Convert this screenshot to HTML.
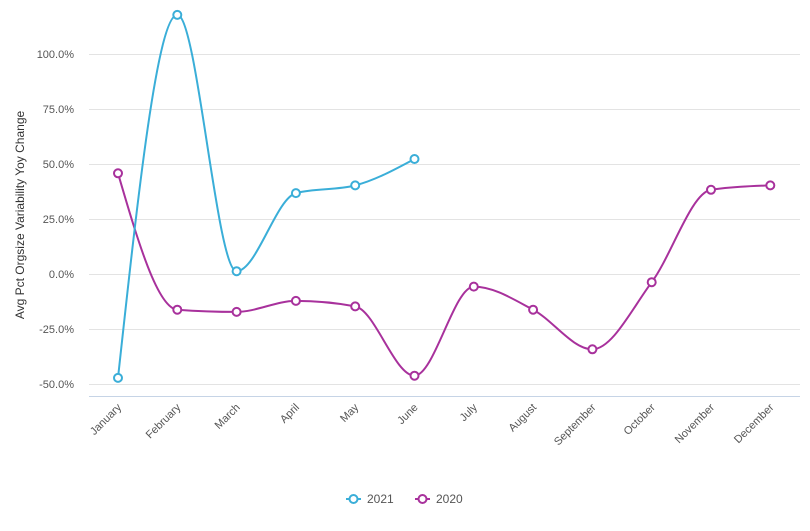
<!DOCTYPE html>
<html><head><meta charset="utf-8"><style>
body{margin:0;background:#fff;width:810px;height:526px;overflow:hidden}
svg text{font-family:"Liberation Sans",sans-serif;fill:#555;font-size:11px}
</style></head><body>
<svg id="s" width="810" height="526" xmlns="http://www.w3.org/2000/svg">
<g stroke="#e3e3e3" stroke-width="1">
<line x1="89" x2="800" y1="54.5" y2="54.5"/><line x1="89" x2="800" y1="109.5" y2="109.5"/>
<line x1="89" x2="800" y1="164.5" y2="164.5"/><line x1="89" x2="800" y1="219.5" y2="219.5"/>
<line x1="89" x2="800" y1="274.5" y2="274.5"/><line x1="89" x2="800" y1="329.5" y2="329.5"/>
<line x1="89" x2="800" y1="384.5" y2="384.5"/>
</g>
<line x1="89" x2="800" y1="396.5" y2="396.5" stroke="#c6d4e6"/>
<g text-anchor="end">
<text x="74" y="58">100.0%</text><text x="74" y="113">75.0%</text><text x="74" y="168">50.0%</text>
<text x="74" y="223">25.0%</text><text x="74" y="278">0.0%</text><text x="74" y="333">-25.0%</text>
<text x="74" y="388">-50.0%</text>
</g>
<text transform="translate(24,215) rotate(-90)" text-anchor="middle" font-size="12" style="font-size:12px;fill:#333">Avg Pct Orgsize Variability Yoy Change</text>
<g id="xl" text-anchor="end"></g>
<g id="series"></g>
<g transform="translate(0,0)">
<line x1="346" x2="361" y1="499" y2="499" stroke="#3aaed8" stroke-width="2"/>
<circle cx="353.5" cy="499" r="4" fill="#fff" stroke="#3aaed8" stroke-width="2"/>
<text x="367" y="503" style="font-size:12px;fill:#555">2021</text>
<line x1="415" x2="430" y1="499" y2="499" stroke="#a8319c" stroke-width="2"/>
<circle cx="422.5" cy="499" r="4" fill="#fff" stroke="#a8319c" stroke-width="2"/>
<text x="436" y="503" style="font-size:12px;fill:#555">2020</text>
</g>
</svg>
<script>
var NS="http://www.w3.org/2000/svg";
var months=["January","February","March","April","May","June","July","August","September","October","November","December"];
function X(i){return 118+i*59.3}
function Y(v){return 274.5-v*2.2}
var xl=document.getElementById("xl");
months.forEach(function(m,i){var t=document.createElementNS(NS,"text");t.setAttribute("transform","translate("+(X(i)+4)+",408) rotate(-45)");t.textContent=m;xl.appendChild(t);});
function mono(p){var n=p.length,d="M"+p[0][0]+","+p[0][1];if(n<2)return d;
var s=[],m=[];for(var i=0;i<n-1;i++)s.push((p[i+1][1]-p[i][1])/(p[i+1][0]-p[i][0]));
m[0]=s[0];m[n-1]=s[n-2];
for(i=1;i<n-1;i++){if(s[i-1]*s[i]<=0)m[i]=0;else{var h0=p[i][0]-p[i-1][0],h1=p[i+1][0]-p[i][0];var t=(s[i-1]*h1+s[i]*h0)/(h0+h1);m[i]=(s[i-1]>0?1:-1)*Math.min(Math.abs(t),2*Math.abs(s[i-1]),2*Math.abs(s[i]));}}
m[0]=(3*s[0]-m[1])/2;m[n-1]=(3*s[n-2]-m[n-2])/2;
for(i=0;i<n-1;i++){var h=(p[i+1][0]-p[i][0])/3;d+=" C"+(p[i][0]+h)+","+(p[i][1]+m[i]*h)+" "+(p[i+1][0]-h)+","+(p[i+1][1]-m[i+1]*h)+" "+p[i+1][0]+","+p[i+1][1];}
return d;}
var g=document.getElementById("series");
function draw(vals,col){var p=vals.map(function(v,i){return[X(i),Y(v)]});
var path=document.createElementNS(NS,"path");path.setAttribute("d",mono(p));path.setAttribute("fill","none");path.setAttribute("stroke",col);path.setAttribute("stroke-width","2");g.appendChild(path);
p.forEach(function(q){var c=document.createElementNS(NS,"circle");c.setAttribute("cx",q[0]);c.setAttribute("cy",q[1]);c.setAttribute("r","4");c.setAttribute("fill","#fff");c.setAttribute("stroke",col);c.setAttribute("stroke-width","2");g.appendChild(c);});}
draw([46,-16,-17,-12,-14.5,-46,-5.5,-16,-34,-3.5,38.5,40.5],"#a8319c");
draw([-47,118,1.5,37,40.5,52.5],"#3aaed8");
</script>
</body></html>
